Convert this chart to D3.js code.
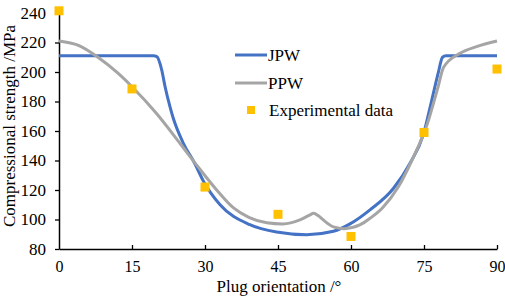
<!DOCTYPE html>
<html>
<head>
<meta charset="utf-8">
<script src="https://cdn.jsdelivr.net/npm/d3@7"></script>
<style>
body { margin: 0; background: #fff; }
text { font-family: "Liberation Serif", "Times New Roman", serif; fill: #000; }
</style>
</head>
<body>
<svg id="chart" width="505" height="296"></svg>
<script>
// plug orientation (deg) vs compressional strength (MPa)
var x_ticks = [0, 15, 30, 45, 60, 75, 90];
var y_ticks = [80, 100, 120, 140, 160, 180, 200, 220, 240];

var jpw_angle = [0, 19.4, 20.1, 21.1, 21.8, 22.8, 23.4, 25.5, 27.9, 29.6, 33.1, 39.2, 44.7, 50.9, 56.4, 59.8, 63.9, 68.7, 72.1, 74.9, 76.6, 77.9, 78.8, 79.5, 90];
var jpw_strength = [211, 211, 210.4, 201.5, 190, 176.5, 169.5, 152, 138, 126.5, 110, 96.5, 91.5, 89.7, 92, 97, 106.5, 121, 138, 158, 181, 199, 210, 211, 211];

var ppw_angle = [0, 4, 8, 12, 15, 20, 25, 28.5, 32.4, 35.8, 39, 42.7, 46, 49.5, 51.5, 52.3, 53.3, 54.3, 56.4, 58.6, 61.8, 63.9, 66.5, 69.7, 72.5, 75.5, 77.9, 79, 82.4, 85.8, 90];
var ppw_strength = [221, 218, 210, 199.5, 190, 172, 151, 136, 120, 108, 101.5, 97.8, 97, 99.7, 103, 104.2, 102.5, 99.7, 95, 93.8, 96.3, 100.8, 108, 122, 140, 163, 190, 203, 212.7, 217.2, 221];

var exp_angle = [0, 15, 30, 45, 60, 75, 90];
var exp_strength = [241.5, 188.5, 122, 103.5, 88.5, 159, 202];

var svg = d3.select('#chart');
var x = d3.scaleLinear().domain([0, 90]).range([59, 497]);
var y = d3.scaleLinear().domain([80, 240]).range([249, 13]);

var line = d3.line().x(d => x(d[0])).y(d => y(d[1])).curve(d3.curveMonotoneX);

// axes
var xAxis = svg.append('g').attr('transform', 'translate(0,' + y(80) + ')')
	.call(d3.axisBottom(x).tickValues(x_ticks).tickSizeInner(-4).tickSizeOuter(0).tickPadding(12));
var yAxis = svg.append('g').attr('transform', 'translate(' + x(0) + ',0)')
	.call(d3.axisLeft(y).tickValues(y_ticks).tickSizeInner(4).tickSizeOuter(0).tickPadding(9));
[xAxis, yAxis].forEach(a => {
	a.select('.domain').attr('stroke', '#000').attr('stroke-width', 1.5);
	a.selectAll('.tick line').attr('stroke', '#000').attr('stroke-width', 1.3);
	a.selectAll('.tick text').attr('font-size', 17).attr('font-family', 'Liberation Serif').attr('fill', '#000');
});
xAxis.selectAll('.tick text').attr('font-size', 16);
xAxis.selectAll('.tick').filter(d => d === 0).select('line').remove();

// series
svg.append('path').datum(d3.zip(jpw_angle, jpw_strength))
	.attr('d', line).attr('fill', 'none').attr('stroke', '#4472C4').attr('stroke-width', 3);
svg.append('path').datum(d3.zip(ppw_angle, ppw_strength))
	.attr('d', line).attr('fill', 'none').attr('stroke', '#A5A5A5').attr('stroke-width', 3);
svg.selectAll('rect.exp').data(d3.zip(exp_angle, exp_strength)).enter().append('rect')
	.attr('class', 'exp')
	.attr('x', d => x(d[0]) - 4.5).attr('y', d => y(d[1]) - 4.5)
	.attr('width', 9).attr('height', 9).attr('fill', '#FFC000');

// titles
svg.append('text').attr('x', 279).attr('y', 292).attr('text-anchor', 'middle')
	.attr('font-size', 17).text('Plug orientation /°');
svg.append('text').attr('transform', 'translate(15,126) rotate(-90)').attr('text-anchor', 'middle')
	.attr('font-size', 17).text('Compressional strength /MPa');

// legend
var legend = svg.append('g');
legend.append('line').attr('x1', 235).attr('x2', 267).attr('y1', 55).attr('y2', 55)
	.attr('stroke', '#4472C4').attr('stroke-width', 3);
legend.append('text').attr('x', 268).attr('y', 61).attr('font-size', 17).text('JPW');
legend.append('line').attr('x1', 235).attr('x2', 267).attr('y1', 83).attr('y2', 83)
	.attr('stroke', '#A5A5A5').attr('stroke-width', 3);
legend.append('text').attr('x', 268).attr('y', 89).attr('font-size', 17).text('PPW');
legend.append('rect').attr('x', 247).attr('y', 106).attr('width', 8).attr('height', 8).attr('fill', '#FFC000');
legend.append('text').attr('x', 269).attr('y', 116).attr('font-size', 17).text('Experimental data');
</script>
</body>
</html>
